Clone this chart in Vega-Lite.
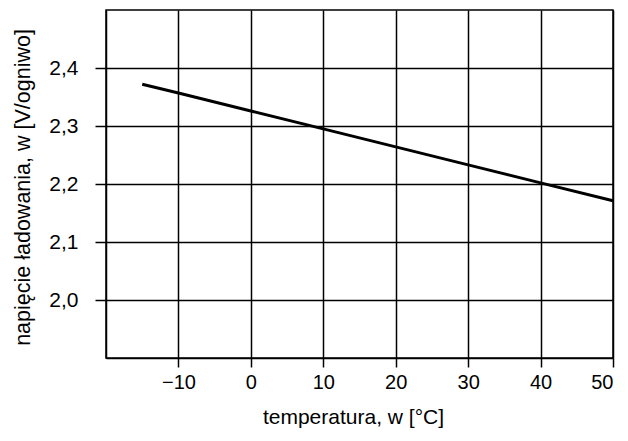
{
  "$schema": "https://vega.github.io/schema/vega-lite/v6.json",
  "width": 507,
  "height": 348,
  "autosize": {"type": "none"},
  "padding": {"left": 106, "top": 10, "right": 15, "bottom": 83},
  "background": "white",
  "config": {
    "font": "Liberation Sans",
    "view": {"stroke": "black", "strokeWidth": 1.5}
  },
  "data": {
    "values": [
      {"t": -15, "u": 2.372},
      {"t": -10, "u": 2.357},
      {"t": 0, "u": 2.326},
      {"t": 10, "u": 2.295},
      {"t": 20, "u": 2.264},
      {"t": 30, "u": 2.233},
      {"t": 40, "u": 2.202},
      {"t": 50, "u": 2.171}
    ]
  },
  "mark": {"type": "line", "color": "black", "strokeWidth": 3},
  "encoding": {
    "x": {
      "field": "t",
      "type": "quantitative",
      "scale": {"domain": [-20, 50], "nice": false, "zero": false},
      "axis": {
        "title": "temperatura, w [°C]",
        "values": [-10, 0, 10, 20, 30, 40, 50],
        "format": "d",
        "domainColor": "black",
        "domainWidth": 1.5,
        "gridColor": "black",
        "gridWidth": 1.5,
        "gridOpacity": 1,
        "tickColor": "black",
        "tickWidth": 1.5,
        "tickSize": 9,
        "labelPadding": 5,
        "labelFontSize": 20,
        "labelColor": "black",
        "titleFontSize": 21,
        "titleFontWeight": "normal",
        "titleColor": "black",
        "titlePadding": 14,
        "titleX": 247
      }
    },
    "y": {
      "field": "u",
      "type": "quantitative",
      "scale": {"domain": [1.9, 2.5], "nice": false, "zero": false},
      "axis": {
        "title": "napięcie ładowania, w [V/ogniwo]",
        "values": [2.0, 2.1, 2.2, 2.3, 2.4],
        "format": ".1f",
        "labelExpr": "replace(datum.label, '.', ',')",
        "domainColor": "black",
        "domainWidth": 1.5,
        "gridColor": "black",
        "gridWidth": 1.5,
        "gridOpacity": 1,
        "tickColor": "black",
        "tickWidth": 1.5,
        "tickSize": 11,
        "labelPadding": 17,
        "labelFontSize": 21,
        "labelColor": "black",
        "titleFontSize": 21.5,
        "titleFontWeight": "normal",
        "titleColor": "black",
        "titlePadding": 14,
        "titleY": 177
      }
    }
  }
}
